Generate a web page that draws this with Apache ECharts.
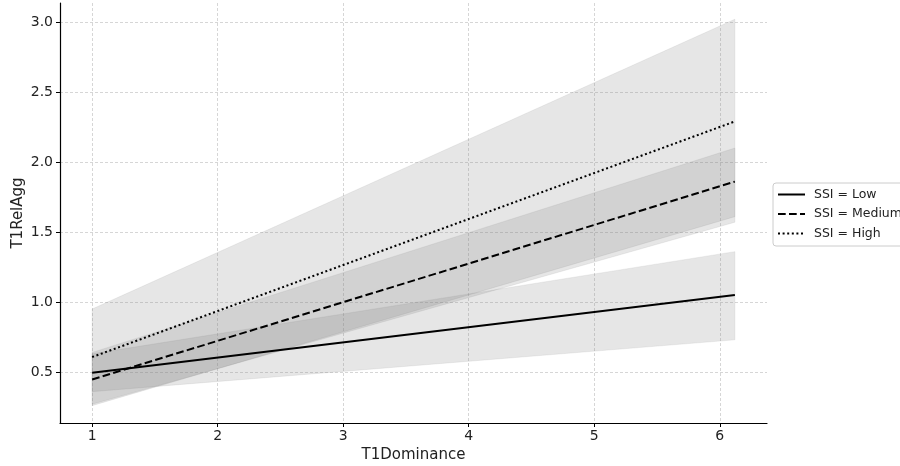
<!DOCTYPE html>
<html>
<head>
<meta charset="utf-8">
<script src="https://cdn.jsdelivr.net/npm/echarts@6/dist/echarts.min.js"></script>
<style>html,body{margin:0;padding:0;background:#fff}#c{width:900px;height:466px}</style>
</head>
<body>
<div id="c"></div>
<script>
const xVals = [1, 6.12];
const xTicks = [1, 2, 3, 4, 5, 6];
const yTicks = [0.5, 1.0, 1.5, 2.0, 2.5, 3.0];
const seriesNames = ['SSI = Low', 'SSI = Medium', 'SSI = High'];
const lowMean = [0.495, 1.05];
const lowLower = [0.36, 0.73];
const lowUpper = [0.63, 1.36];
const medMean = [0.447, 1.86];
const medLower = [0.26, 1.61];
const medUpper = [0.64, 2.10];
const highMean = [0.607, 2.29];
const highLower = [0.27, 1.57];
const highUpper = [0.95, 3.02];

const font = 'DejaVu Sans';
const bandFill = 'rgba(128,128,128,0.2)';
const bandEdge = 'rgba(128,128,128,0.12)';

function pts(arr) { return xVals.map((x, i) => [x, arr[i]]); }

function band(key, lower, upper) {
  const data = xVals.map((x, i) => [x, lower[i], upper[i]]);
  return {
    name: key, type: 'custom', silent: true, z: 1,
    data: data,
    encode: { x: 0, y: [1, 2] },
    renderItem: function (params, api) {
      if (params.dataIndex !== 0) return null;
      const top = data.map(d => api.coord([d[0], d[2]]));
      const bot = data.map(d => api.coord([d[0], d[1]])).reverse();
      return {
        type: 'polygon',
        shape: { points: top.concat(bot) },
        style: { fill: bandFill, stroke: bandEdge, lineWidth: 1 }
      };
    }
  };
}

const chart = echarts.init(document.getElementById('c'), null, { renderer: 'canvas' });
chart.setOption({
  animation: false,
  backgroundColor: '#fff',
  textStyle: { fontFamily: font },
  grid: { left: 60, right: 133, top: 3, bottom: 43, containLabel: false, outerBoundsMode: 'none' },
  legend: {
    data: seriesNames.map(n => ({ name: n })),
    orient: 'vertical', left: 773, top: 183,
    itemWidth: 27, itemHeight: 12, itemGap: 6.5,
    padding: [5, 6, 6, 4],
    borderColor: '#cccccc', borderWidth: 1, borderRadius: 3,
    backgroundColor: '#fff',
    itemStyle: { opacity: 0 },
    textStyle: { fontFamily: font, fontSize: 12.5, color: '#222', padding: [0, 0, 0, 4] }
  },
  xAxis: {
    type: 'value', min: 0.744, max: 6.376,
    name: 'T1Dominance', nameLocation: 'middle', nameGap: 25, nameMoveOverlap: false,
    nameTextStyle: { fontFamily: font, fontSize: 15, color: '#222' },
    axisLine: { show: true, lineStyle: { color: '#000', width: 1.2 } },
    axisTick: { show: true, customValues: xTicks, length: 4, lineStyle: { color: '#000' } },
    axisLabel: { customValues: xTicks, fontFamily: font, fontSize: 14, color: '#222', margin: 6 },
    splitLine: { show: true, lineStyle: { color: '#cccccc', type: [3, 2], width: 0.8 } }
  },
  yAxis: {
    type: 'value', min: 0.136, max: 3.136,
    name: 'T1RelAgg', nameLocation: 'middle', nameGap: 34, nameMoveOverlap: false,
    nameTextStyle: { fontFamily: font, fontSize: 15, color: '#222' },
    axisLine: { show: true, lineStyle: { color: '#000', width: 1.2 } },
    axisTick: { show: true, customValues: yTicks, length: 4, lineStyle: { color: '#000' } },
    axisLabel: { customValues: yTicks, fontFamily: font, fontSize: 14, color: '#222', margin: 7,
      formatter: v => v.toFixed(1) },
    splitLine: { show: true, lineStyle: { color: '#cccccc', type: [3, 2], width: 0.8 } }
  },
  series: [
    band('low', lowLower, lowUpper),
    band('med', medLower, medUpper),
    band('high', highLower, highUpper),
    { name: seriesNames[0], type: 'line', data: pts(lowMean), symbol: 'none', z: 5,
      itemStyle: { color: '#000' }, lineStyle: { color: '#000', width: 2, type: 'solid' } },
    { name: seriesNames[1], type: 'line', data: pts(medMean), symbol: 'none', z: 5,
      itemStyle: { color: '#000' }, lineStyle: { color: '#000', width: 2, type: [7.7, 3.3] } },
    { name: seriesNames[2], type: 'line', data: pts(highMean), symbol: 'none', z: 5,
      itemStyle: { color: '#000' }, lineStyle: { color: '#000', width: 2, type: [2, 2.6] } }
  ]
});
</script>
</body>
</html>
